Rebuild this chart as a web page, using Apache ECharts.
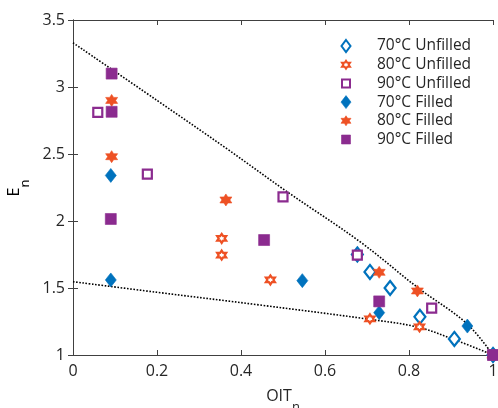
<!DOCTYPE html>
<html>
<head>
<meta charset="utf-8">
<script src="https://cdn.jsdelivr.net/npm/echarts@6/dist/echarts.min.js"></script>
<style>
  html, body { margin: 0; padding: 0; background: #ffffff; }
  #chart { width: 498px; height: 408px; }
</style>
</head>
<body>
<div id="chart"></div>
<script>
// Normalised modulus E_n against normalised oxidation induction time OIT_n
const seriesNames = ['70°C Unfilled', '80°C Unfilled', '90°C Unfilled', '70°C Filled', '80°C Filled', '90°C Filled'];

const unfilled70 = [[0.677, 1.75], [0.707, 1.62], [0.755, 1.50], [0.826, 1.285], [0.908, 1.12], [1, 1]];
const unfilled80 = [[0.354, 1.87], [0.354, 1.746], [0.47, 1.56], [0.707, 1.27], [0.825, 1.21], [1, 1]];
const unfilled90 = [[0.059, 2.81], [0.177, 2.35], [0.50, 2.18], [0.677, 1.746], [0.854, 1.35], [1, 1]];
const filled70 = [[0.09, 2.34], [0.09, 1.56], [0.546, 1.555], [0.729, 1.316], [0.939, 1.216], [1, 1]];
const filled80 = [[0.092, 2.90], [0.092, 2.48], [0.364, 2.157], [0.729, 1.617], [0.82, 1.478], [1, 1]];
const filled90 = [[0.092, 3.10], [0.092, 2.815], [0.09, 2.015], [0.455, 1.858], [0.729, 1.40], [1, 1]];

// Dotted bounding curves
const upperBound = [[0, 3.33], [0.2, 2.90], [0.366, 2.54], [0.509, 2.22], [0.683, 1.846], [0.822, 1.50], [0.937, 1.236], [1, 1]];
const lowerBound = [[0, 1.547], [0.2, 1.468], [0.445, 1.373], [0.707, 1.266], [0.822, 1.207], [0.91, 1.112], [1, 1]];

const xTicks = { min: 0, max: 1, step: 0.2 };
const yTicks = { min: 1, max: 3.5, step: 0.5 };

const BLUE = '#0072BD';
const ORANGE = '#EE5124';
const PURPLE = '#8B2B8F';
const TEXT = '#262626';
const FONT = 'Open Sans';

// Marker outlines as polygon vertices
const DIAMOND = [[5, 0], [10, 7], [5, 14], [0, 7]];
const SQUARE = [[0, 0], [10, 0], [10, 10], [0, 10]];
const HEXAGRAM = [[10, 0], [12.885, 5], [18.66, 5], [15.77, 10], [18.66, 15], [12.885, 15], [10, 20],
                  [7.115, 15], [1.34, 15], [4.23, 10], [1.34, 5], [7.115, 5]];

function toSymbol(pts) {
  return 'path://M' + pts.map(function (p) { return p[0] + ' ' + p[1]; }).join(' L') + ' Z';
}

// Fit a vertex list into a w x h box centred on (cx, cy)
function fitPoints(pts, cx, cy, w, h) {
  const xs = pts.map(function (p) { return p[0]; });
  const ys = pts.map(function (p) { return p[1]; });
  const x0 = Math.min.apply(null, xs), x1 = Math.max.apply(null, xs);
  const y0 = Math.min.apply(null, ys), y1 = Math.max.apply(null, ys);
  return pts.map(function (p) {
    return [cx - w / 2 + (p[0] - x0) / (x1 - x0) * w, cy - h / 2 + (p[1] - y0) / (y1 - y0) * h];
  });
}

// Per-series marker style: shape, plot size, key size, colour, hollow
const markerStyles = [
  { shape: DIAMOND, size: [11, 14], key: [9, 12], color: BLUE, open: true },
  { shape: HEXAGRAM, size: [9, 9], key: [8, 8], color: ORANGE, open: true },
  { shape: SQUARE, size: [9, 9], key: [8, 8], color: PURPLE, open: true },
  { shape: DIAMOND, size: [11, 14], key: [10, 13], color: BLUE, open: false },
  { shape: HEXAGRAM, size: [12, 12], key: [10, 10], color: ORANGE, open: false },
  { shape: SQUARE, size: [11, 11], key: [9, 9], color: PURPLE, open: false }
];
const seriesData = [unfilled70, unfilled80, unfilled90, filled70, filled80, filled90];

function scatter(i) {
  const m = markerStyles[i];
  return {
    name: seriesNames[i],
    type: 'scatter',
    data: seriesData[i],
    symbol: toSymbol(m.shape),
    symbolSize: m.size,
    clip: false,
    z: 3,
    itemStyle: m.open
      ? { color: '#ffffff', borderColor: m.color, borderWidth: 2.2, opacity: 1 }
      : { color: m.color, borderColor: m.color, borderWidth: 0.6, opacity: 1 }
  };
}

function boundLine(data) {
  return {
    type: 'line',
    data: data,
    showSymbol: false,
    symbol: 'none',
    smooth: 0.35,
    silent: true,
    z: 1,
    lineStyle: { type: 'dotted', color: '#000000', width: 1.6 }
  };
}

// Key in the upper right corner
const keyIconX = 346, keyTextX = 377, keyTop = 46, keyStep = 18.7;
const keyGraphics = [];
seriesNames.forEach(function (name, i) {
  const m = markerStyles[i];
  const cy = keyTop + i * keyStep;
  keyGraphics.push({
    type: 'polygon',
    silent: true,
    shape: { points: fitPoints(m.shape, keyIconX, cy, m.key[0], m.key[1]) },
    style: m.open
      ? { fill: '#ffffff', stroke: m.color, lineWidth: 2 }
      : { fill: m.color, stroke: m.color, lineWidth: 0.6 }
  });
  keyGraphics.push({
    type: 'text',
    silent: true,
    x: keyTextX,
    y: cy,
    style: { text: name, fontSize: 15.5, fontFamily: FONT, fill: TEXT, align: 'left', verticalAlign: 'middle' }
  });
});

const axisLineStyle = { show: true, lineStyle: { color: '#404040', width: 1 } };
const tickStyle = { show: true, inside: true, length: 5, lineStyle: { color: '#404040' } };
const labelStyle = { fontSize: 16, color: TEXT, fontFamily: FONT };
const nameRich = {
  a: { fontSize: 16, color: TEXT, fontFamily: FONT, lineHeight: 26, verticalAlign: 'top' },
  b: { fontSize: 13, color: TEXT, fontFamily: FONT, lineHeight: 26, verticalAlign: 'bottom' }
};

const chart = echarts.init(document.getElementById('chart'), null, { renderer: 'canvas' });

chart.setOption({
  backgroundColor: '#ffffff',
  animation: false,
  textStyle: { fontFamily: FONT },
  grid: { left: 73, right: 5, top: 20, bottom: 53, containLabel: false, outerBoundsMode: 'none' },
  graphic: [{
    // Rotated y-axis title with subscript
    type: 'text',
    x: 19,
    y: 188,
    rotation: Math.PI / 2,
    silent: true,
    style: { text: '{a|E}{b|n}', align: 'center', verticalAlign: 'middle', rich: nameRich }
  }].concat(keyGraphics),
  xAxis: [
    {
      type: 'value', min: xTicks.min, max: xTicks.max, interval: xTicks.step,
      position: 'bottom',
      axisLine: axisLineStyle,
      axisTick: tickStyle,
      axisLabel: Object.assign({ margin: 8 }, labelStyle),
      splitLine: { show: false },
      name: '{a|OIT}{b|n}',
      nameLocation: 'middle',
      nameGap: 33,
      nameTextStyle: { rich: nameRich }
    },
    {
      type: 'value', min: xTicks.min, max: xTicks.max, interval: xTicks.step,
      position: 'top',
      axisLine: axisLineStyle,
      axisTick: tickStyle,
      axisLabel: { show: false },
      splitLine: { show: false }
    }
  ],
  yAxis: [
    {
      type: 'value', min: yTicks.min, max: yTicks.max, interval: yTicks.step,
      position: 'left',
      axisLine: axisLineStyle,
      axisTick: tickStyle,
      axisLabel: Object.assign({ margin: 8 }, labelStyle),
      splitLine: { show: false }
    },
    {
      type: 'value', min: yTicks.min, max: yTicks.max, interval: yTicks.step,
      position: 'right',
      axisLine: axisLineStyle,
      axisTick: tickStyle,
      axisLabel: { show: false },
      splitLine: { show: false }
    }
  ],
  series: [
    boundLine(upperBound),
    boundLine(lowerBound),
    scatter(0), scatter(1), scatter(2), scatter(3), scatter(4), scatter(5)
  ]
});
</script>
</body>
</html>
